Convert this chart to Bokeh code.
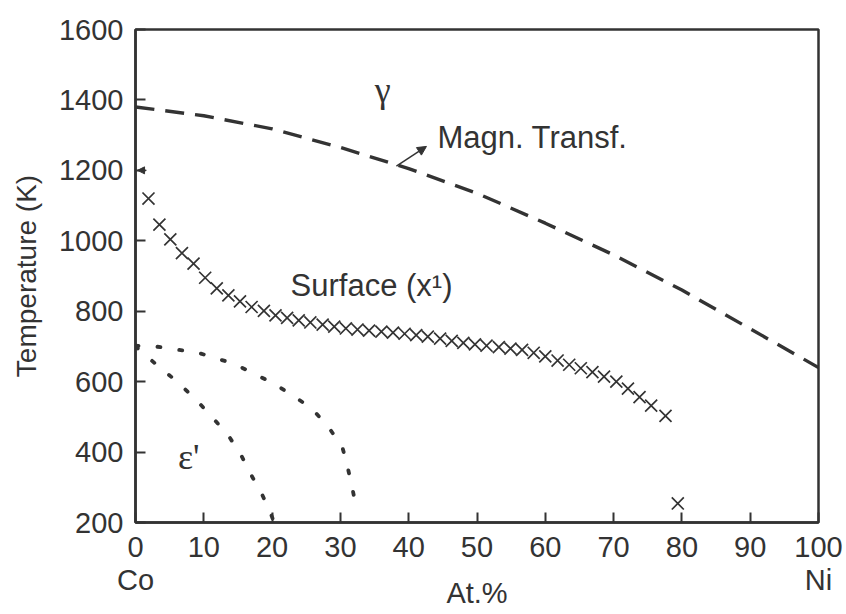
from bokeh.plotting import figure
from bokeh.models import Label, Arrow, NormalHead, FixedTicker, Range1d
from bokeh.embed import file_html
from bokeh.resources import INLINE

# ---- data ----
x_ticks = [0, 10, 20, 30, 40, 50, 60, 70, 80, 90, 100]
x_tick_labels = {0: "0\nCo", 100: "100\nNi"}
y_ticks = [200, 400, 600, 800, 1000, 1200, 1400, 1600]

magn_x = [0, 10, 20, 30, 40, 50, 60, 70, 80, 90, 100]
magn_T = [1380, 1355, 1318, 1265, 1205, 1135, 1050, 960, 860, 750, 640]

surf_x = [1.9, 3.5, 5.1, 6.8, 8.5, 10.2, 11.9, 13.6, 15.3, 17.0, 18.8, 20.5, 22.2,
          23.9, 25.6, 27.4, 29.1, 30.8, 32.5, 34.2, 36.0, 37.7, 39.4, 41.1, 42.8,
          44.6, 46.3, 48.0, 49.7, 51.4, 53.2, 54.9, 56.6, 58.3, 60.0, 61.8, 63.5,
          65.2, 66.9, 68.6, 70.4, 72.1, 73.8, 75.5, 77.6, 79.4]
surf_T = [1120, 1046, 1004, 965, 935, 895, 865, 845, 828, 812, 801, 788, 781,
          774, 768, 762, 756, 751, 748, 745, 742, 739, 736, 732, 728,
          722, 716, 710, 706, 702, 698, 694, 690, 682, 672, 660, 648,
          638, 627, 614, 600, 580, 556, 532, 503, 254]

eps1_x = [0, 2.9, 6.0, 9.0, 11.5, 14.4, 17.3, 20.2, 23.0, 25.8, 28.3, 30.3, 31.0, 31.6, 32.2, 32.4]
eps1_T = [702, 700, 691, 683, 668, 651, 623, 595, 561, 524, 470, 413, 362, 311, 254, 232]

eps2_x = [0, 2.9, 6.1, 9.0, 11.4, 13.6, 15.5, 17.0, 18.6, 19.8, 20.1]
eps2_T = [700, 651, 600, 546, 495, 447, 390, 333, 277, 226, 210]

INK = "#333333"
SANS = "Liberation Sans"
SERIF = "Liberation Serif"

p = figure(width=846, height=614, x_range=Range1d(0, 100), y_range=Range1d(200, 1600),
           output_backend="svg", toolbar_location=None,
           min_border_left=135, min_border_right=28, min_border_top=29, min_border_bottom=92)
p.background_fill_color = "white"
p.border_fill_color = "white"
p.grid.visible = False
p.outline_line_color = INK
p.outline_line_width = 2.5

for ax in (p.xaxis[0], p.yaxis[0]):
    ax.axis_line_color = INK
    ax.axis_line_width = 2.5
    ax.major_tick_line_color = INK
    ax.major_tick_line_width = 2
    ax.major_tick_in = 10
    ax.major_tick_out = 0
    ax.minor_tick_line_color = None
    ax.major_label_text_font = SANS
    ax.major_label_text_font_size = "29px"
    ax.major_label_text_color = INK

p.xaxis.ticker = FixedTicker(ticks=x_ticks)
p.xaxis.major_label_overrides = x_tick_labels
p.xaxis.major_label_text_line_height = 1.05
p.yaxis.ticker = FixedTicker(ticks=y_ticks)
p.xaxis.major_label_standoff = 8
p.yaxis.major_label_standoff = 12

p.yaxis.axis_label = "Temperature (K)"
p.yaxis.axis_label_text_font = SANS
p.yaxis.axis_label_text_font_size = "28px"
p.yaxis.axis_label_text_font_style = "normal"
p.yaxis.axis_label_text_color = INK
p.yaxis.axis_label_standoff = 14

p.xaxis.axis_label = "At.%"
p.xaxis.axis_label_text_font = SANS
p.xaxis.axis_label_text_font_size = "29px"
p.xaxis.axis_label_text_font_style = "normal"
p.xaxis.axis_label_text_color = INK
p.xaxis.axis_label_standoff = -22

# magnetic transformation (dashed)
p.line(magn_x, magn_T, line_color=INK, line_width=3.4, line_dash="19 11")

# epsilon' dotted curves
p.line(eps1_x, eps1_T, line_color=INK, line_width=3.8, line_dash="3 19", line_cap="round")
p.line(eps2_x, eps2_T, line_color=INK, line_width=3.8, line_dash="3 19", line_cap="round")

# surface crosses
p.scatter(surf_x, surf_T, marker="x", size=17, line_color=INK, line_width=1.7)

# arrow to dashed line
p.add_layout(Arrow(end=NormalHead(size=9, fill_color=INK, line_color=INK),
                   x_start=38.2, y_start=1212, x_end=42.6, y_end=1268,
                   line_color=INK, line_width=1.5))
# small arrowhead mark on the y axis at 1200
p.add_layout(Arrow(end=NormalHead(size=7, fill_color=INK, line_color=INK),
                   x_start=1.6, y_start=1200, x_end=0.3, y_end=1200,
                   line_color=INK, line_width=1.2))

def lab(x, y, t, font=SANS, size="30px", align="left", base="middle"):
    p.add_layout(Label(x=x, y=y, text=t, text_font=font, text_font_size=size,
                       text_color=INK, text_align=align, text_baseline=base))

lab(36.2, 1427, "γ", font=SERIF, size="36px", align="center")
lab(44.2, 1293, "Magn. Transf.", size="31px")
lab(22.7, 873, "Surface (x¹)", size="31px")
lab(7.8, 385, "ε'", font=SERIF, size="36px", align="center")

open("out.html", "w").write(file_html(p, INLINE))
